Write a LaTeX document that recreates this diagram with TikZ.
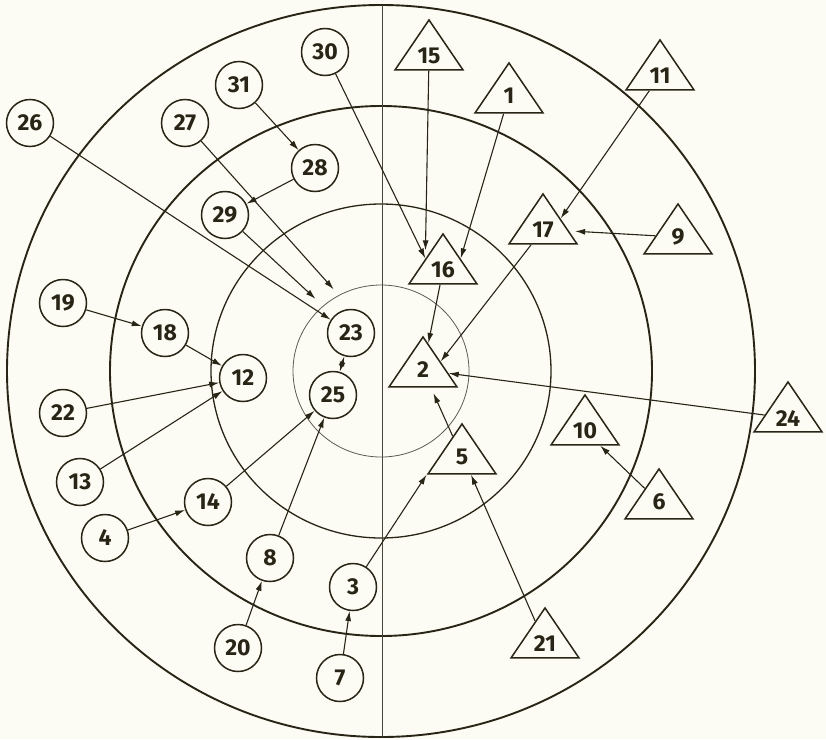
\documentclass[tikz,border=0pt]{standalone}
\usepackage{fontspec}
\setsansfont{Fira Sans}
\usetikzlibrary{arrows.meta,shapes.geometric}
\definecolor{ink}{RGB}{40,36,22}
\definecolor{paper}{RGB}{253,252,244}
\tikzset{
  member/.style={
    draw=ink,
    circle,
    line width=1.5pt,
    minimum size=47pt,
    inner sep=0pt,
    text=ink,
    font=\sffamily\bfseries\fontsize{23}{23}\selectfont
  },
  tri/.style={
    draw=ink,
    isosceles triangle,
    isosceles triangle stretches,
    shape border rotate=90,
    minimum width=68pt,
    minimum height=50pt,
    inner sep=0pt,
    line width=1.5pt,
    text=ink,
    font=\sffamily\bfseries\fontsize{23}{23}\selectfont
  },
  line/.style={
    -{Latex[length=10pt,width=6pt]},
    draw=ink,
    line width=1.1pt
  },
  ring/.style={
    draw=ink,
    line width=1.9pt
  }
}

\begin{document}
\begin{tikzpicture}[x=1pt, y=-1pt]
  \fill[paper] (0,0) rectangle (826,739);
  \useasboundingbox (0,0) rectangle (826,739);

  % rings
  \draw[ring] (381,371) ellipse [x radius=374, y radius=366];
  \draw[ring] (381,371) ellipse [x radius=271, y radius=265];
  \draw[ring, line width=1.3pt] (381,371) ellipse [x radius=170, y radius=167];
  \draw[ring, line width=0.8pt, draw=ink!75] (381,371) ellipse [x radius=88, y radius=86];
  \draw[draw=ink!85, line width=0.9pt] (382,5) -- (382,737);

  % circles
  \node[member] (c30) at (325,52) {30};
  \node[member] (c31) at (239,85) {31};
  \node[member] (c26) at (30,123) {26};
  \node[member] (c27) at (185,123) {27};
  \node[member] (c28) at (315,168) {28};
  \node[member] (c29) at (225,215) {29};
  \node[member] (c19) at (63,303) {19};
  \node[member] (c18) at (165,333) {18};
  \node[member] (c23) at (351,333) {23};
  \node[member] (c25) at (333,395) {25};
  \node[member] (c12) at (243,378) {12};
  \node[member] (c22) at (63,413) {22};
  \node[member] (c13) at (80,482) {13};
  \node[member] (c4) at (105,538) {4};
  \node[member] (c14) at (208,502) {14};
  \node[member] (c8) at (270,558) {8};
  \node[member] (c3) at (353,587) {3};
  \node[member] (c20) at (238,648) {20};
  \node[member] (c7) at (340,678) {7};

  % triangles
  \node[tri, anchor=apex] (t15) at (429,18) {15};
  \node[tri, anchor=apex] (t1) at (509,61) {1};
  \node[tri, anchor=apex] (t11) at (660,38) {11};
  \node[tri, anchor=apex] (t17) at (543,192) {17};
  \node[tri, anchor=apex] (t9) at (678,202) {9};
  \node[tri, anchor=apex] (t16) at (443,232) {16};
  \node[tri, anchor=apex] (t2) at (423,335) {2};
  \node[tri, anchor=apex] (t24) at (788,380) {24};
  \node[tri, anchor=apex] (t10) at (585,393) {10};
  \node[tri, anchor=apex] (t5) at (462,422) {5};
  \node[tri, anchor=apex] (t6) at (659,467) {6};
  \node[tri, anchor=apex] (t21) at (545,606) {21};

  % choices
  \draw[line] (c31) -- (c28);
  \draw[line] (c28) -- (c29);
  \draw[line, shorten >=26pt] (c27) -- (c23.north);
  \draw[line, shorten >=25pt] (c29) -- (c23.north west);
  \draw[line] (c26) -- (c23);
  \draw[line, {Latex[length=10pt,width=6pt]}-{Latex[length=10pt,width=6pt]}] (c23) -- (c25);
  \draw[line] (c30) -- (t16.left side);
  \draw[line, shorten >=8pt] (t15) -- (t16.left side);
  \draw[line] (t1) -- (t16.right side);
  \draw[line] (t11) -- (t17.right side);
  \draw[line, shorten >=6pt] (t9) -- (t17);
  \draw[line] (t17) -- (t2.right side);
  \draw[line] (t16) -- (t2);
  \draw[line] (t24) -- (t2);
  \draw[line, shorten >=6pt] (t5) -- (t2);
  \draw[line] (c3) -- (t5.left corner);
  \draw[line] (t21) -- ([xshift=9pt]t5.lower side);
  \draw[line] (t6) -- (t10);
  \draw[line] (c19) -- (c18);
  \draw[line] (c18) -- (c12);
  \draw[line] (c22) -- (c12);
  \draw[line] (c13) -- (c12);
  \draw[line] (c4) -- (c14);
  \draw[line] (c14) -- (c25);
  \draw[line] (c8) -- (c25);
  \draw[line] (c20) -- (c8);
  \draw[line] (c7) -- (c3);
\end{tikzpicture}
\end{document}
